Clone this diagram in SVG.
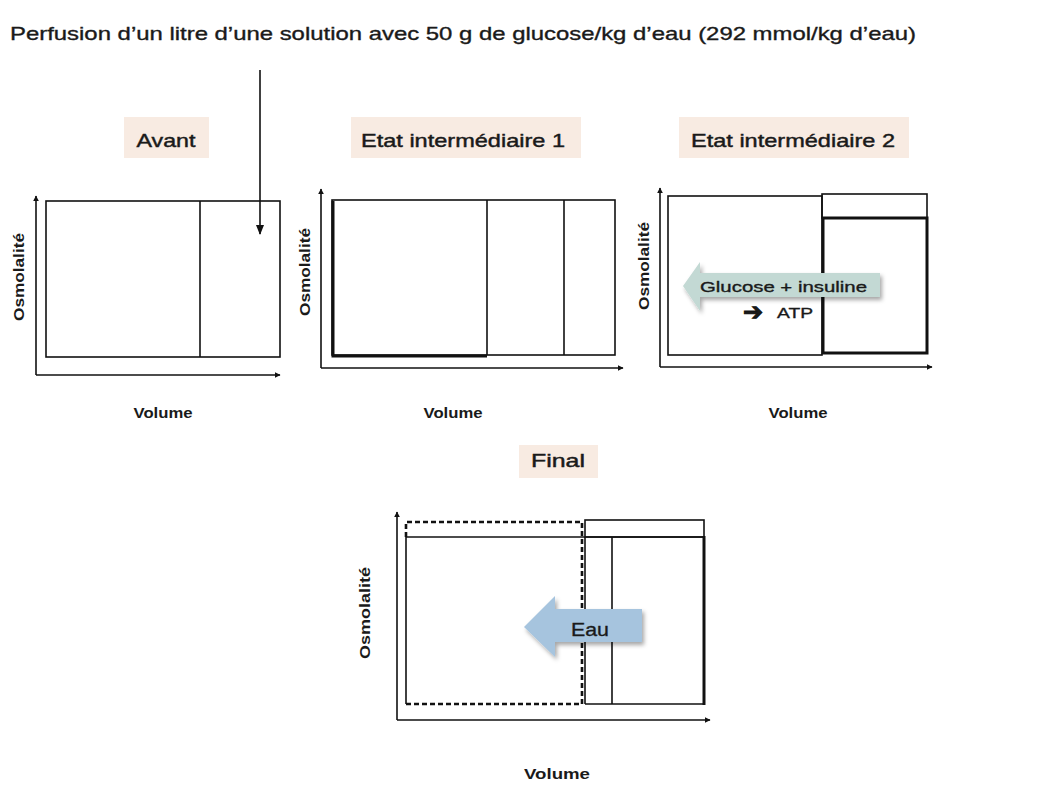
<svg xmlns="http://www.w3.org/2000/svg" width="1058" height="798" viewBox="0 0 1058 798">
<defs>
<style>
text{font-family:"Liberation Sans","DejaVu Sans",Arial,sans-serif;fill:#1a1a1a}
.title{font-size:19px;stroke:#1a1a1a;stroke-width:0.35}
.lab{font-size:19px;stroke:#1a1a1a;stroke-width:0.45}
.lbox{fill:#f8ebe2}
.ax{stroke:#111;stroke-width:1.6;fill:none}
.box{stroke:#111;stroke-width:1.6;fill:none}
.thick{stroke:#111;stroke-width:3;fill:none}
.axl{font-size:14px;font-weight:bold}
.dash{stroke:#111;stroke-width:2.6;fill:none;stroke-dasharray:5 3}
.arl{stroke:#1a1a1a;stroke-width:0.35}
</style>
<marker id="ah" viewBox="0 0 10 10" refX="9" refY="5" markerWidth="6" markerHeight="6" orient="auto-start-reverse" markerUnits="userSpaceOnUse">
<path d="M0,0 L10,5 L0,10 z" fill="#111"/>
</marker>
<marker id="ah2" viewBox="0 0 10 10" refX="9" refY="5" markerWidth="10" markerHeight="10" orient="auto" markerUnits="userSpaceOnUse">
<path d="M0,1 L10,5 L0,9 z" fill="#111"/>
</marker>
<filter id="sh" x="-10%" y="-20%" width="130%" height="150%">
<feDropShadow dx="2" dy="3" stdDeviation="2" flood-color="#000" flood-opacity="0.35"/>
</filter>
</defs>
<rect width="1058" height="798" fill="#fff"/>

<g id="title">
<text class="title" x="10" y="40" textLength="906" lengthAdjust="spacingAndGlyphs">Perfusion d’un litre d’une solution avec 50 g de glucose/kg d’eau (292 mmol/kg d’eau)</text>
</g>

<g id="connectors">
<line x1="260" y1="70" x2="260" y2="234" stroke="#111" stroke-width="1.6" marker-end="url(#ah2)"/>
</g>

<g id="avant">
<rect class="lbox" x="124" y="117" width="85" height="41"/>
<text class="lab" x="166" y="147" text-anchor="middle" textLength="59" lengthAdjust="spacingAndGlyphs">Avant</text>
<line class="ax" x1="36" y1="375" x2="36" y2="196" marker-end="url(#ah)"/>
<line class="ax" x1="36" y1="375" x2="280" y2="375" marker-end="url(#ah)"/>
<rect class="box" x="46" y="201" width="234" height="156"/>
<line class="box" x1="200" y1="201" x2="200" y2="357"/>
<text class="axl" transform="translate(24,277) rotate(-90)" text-anchor="middle" textLength="88" lengthAdjust="spacingAndGlyphs">Osmolalité</text>
<text class="axl" x="163" y="418" text-anchor="middle" textLength="59" lengthAdjust="spacingAndGlyphs">Volume</text>
</g>

<g id="etat1">
<rect class="lbox" x="351" y="117" width="230" height="41"/>
<text class="lab" x="463" y="147" text-anchor="middle" textLength="204" lengthAdjust="spacingAndGlyphs">Etat intermédiaire 1</text>
<line class="ax" x1="321" y1="368" x2="321" y2="189" marker-end="url(#ah)"/>
<line class="ax" x1="321" y1="368" x2="623" y2="368" marker-end="url(#ah)"/>
<rect class="box" x="332" y="200" width="283" height="155"/>
<line class="box" x1="487" y1="200" x2="487" y2="355"/>
<line class="box" x1="564" y1="200" x2="564" y2="355"/>
<polyline class="thick" points="333,201 333,356 487,356"/>
<text class="axl" transform="translate(310,272) rotate(-90)" text-anchor="middle" textLength="88" lengthAdjust="spacingAndGlyphs">Osmolalité</text>
<text class="axl" x="453" y="418" text-anchor="middle" textLength="59" lengthAdjust="spacingAndGlyphs">Volume</text>
</g>

<g id="etat2">
<rect class="lbox" x="679" y="117" width="230" height="41"/>
<text class="lab" x="793" y="147" text-anchor="middle" textLength="204" lengthAdjust="spacingAndGlyphs">Etat intermédiaire 2</text>
<line class="ax" x1="660" y1="367" x2="660" y2="188" marker-end="url(#ah)"/>
<line class="ax" x1="660" y1="367" x2="932" y2="367" marker-end="url(#ah)"/>
<rect class="box" x="668" y="196" width="154" height="159"/>
<rect class="box" x="822" y="194" width="105" height="24"/>
<rect class="thick" x="823" y="218" width="104" height="135"/>
<text class="axl" transform="translate(649,266) rotate(-90)" text-anchor="middle" textLength="88" lengthAdjust="spacingAndGlyphs">Osmolalité</text>
<text class="axl" x="798" y="418" text-anchor="middle" textLength="59" lengthAdjust="spacingAndGlyphs">Volume</text>
<path d="M683,286 L700,262 L700,273 L880,273 L880,297 L700,297 L700,311 Z" fill="#c3d9d4" filter="url(#sh)"/>
<text class="arl" x="700" y="292" font-size="15" textLength="167" lengthAdjust="spacingAndGlyphs">Glucose + insuline</text>
<text x="743" y="320" font-size="24" font-weight="bold" font-family="DejaVu Sans, sans-serif" stroke="#111" stroke-width="1">➔</text>
<text class="arl" x="777" y="318" font-size="15" textLength="36" lengthAdjust="spacingAndGlyphs">ATP</text>
</g>

<g id="final">
<rect class="lbox" x="519" y="445" width="79" height="33"/>
<text class="lab" x="558" y="467" text-anchor="middle" textLength="54" lengthAdjust="spacingAndGlyphs">Final</text>
<line class="ax" x1="397" y1="720" x2="397" y2="512" marker-end="url(#ah)"/>
<line class="ax" x1="397" y1="720" x2="710" y2="720" marker-end="url(#ah)"/>
<line class="box" x1="406" y1="537" x2="704" y2="537"/>
<line class="box" x1="406" y1="537" x2="406" y2="704"/>
<path class="dash" d="M406,537 L406,522 L582,522 L582,704 L406,704"/>
<rect class="box" x="585" y="520" width="119" height="17"/>
<line class="box" x1="585" y1="537" x2="585" y2="704"/>
<line class="box" x1="585" y1="704" x2="704" y2="704"/>
<line class="box" x1="612" y1="537" x2="612" y2="704"/>
<line class="thick" x1="704" y1="536" x2="704" y2="705"/>
<path d="M524,627 L555,596 L555,609 L642,609 L642,642 L555,642 L555,657 Z" fill="#a6c4de" filter="url(#sh)"/>
<text class="arl" x="590" y="636" font-size="19" text-anchor="middle" textLength="38" lengthAdjust="spacingAndGlyphs">Eau</text>
<text class="axl" transform="translate(370,613) rotate(-90)" text-anchor="middle" textLength="92" lengthAdjust="spacingAndGlyphs">Osmolalité</text>
<text class="axl" x="557" y="779" text-anchor="middle" textLength="66" lengthAdjust="spacingAndGlyphs">Volume</text>
</g>
</svg>
